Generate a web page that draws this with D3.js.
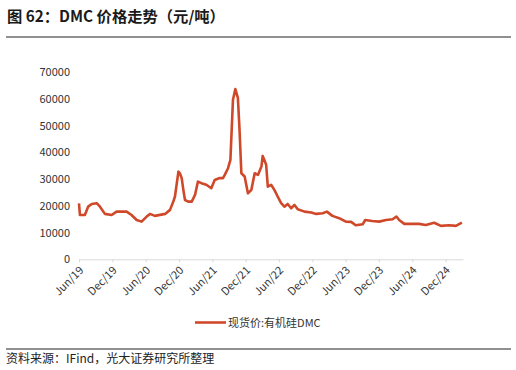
<!DOCTYPE html>
<html>
<head>
<meta charset="utf-8">
<title>DMC 价格走势</title>
<script src="https://d3js.org/d3.v7.min.js" charset="utf-8"></script>
<style>
  body { margin: 0; background: #fff; }
  text { font-family: "Noto Sans CJK SC", "Noto Sans", sans-serif; }
</style>
</head>
<body>
<script>
// 日付と価格（元/吨）
var dates = [
  "2019-06-01","2019-06-06","2019-07-03","2019-07-21","2019-08-10","2019-09-06","2019-09-24","2019-10-21",
  "2019-11-27","2019-12-24","2020-02-17","2020-03-15","2020-04-12","2020-05-09","2020-06-06","2020-06-24",
  "2020-07-21","2020-09-15","2020-10-12","2020-10-30","2020-11-08","2020-11-27","2020-12-05","2020-12-15",
  "2020-12-24","2021-01-02","2021-01-20","2021-02-08","2021-02-26","2021-03-14","2021-04-02","2021-04-29",
  "2021-05-26","2021-06-14","2021-07-11","2021-07-29","2021-08-08","2021-08-26","2021-09-08","2021-09-22",
  "2021-10-05","2021-10-19","2021-10-28","2021-11-07","2021-11-25","2021-12-13","2022-01-01","2022-01-19",
  "2022-02-06","2022-02-25","2022-03-04","2022-03-13","2022-03-23","2022-04-01","2022-04-19","2022-05-07",
  "2022-05-25","2022-06-13","2022-07-01","2022-07-19","2022-08-07","2022-08-25","2022-09-12","2022-10-19",
  "2022-11-25","2022-12-22","2023-01-27","2023-02-19","2023-03-21","2023-04-27","2023-06-03","2023-07-02",
  "2023-07-27","2023-09-03","2023-09-17","2023-10-25","2023-12-03","2024-01-09","2024-02-14","2024-03-06",
  "2024-03-21","2024-04-18","2024-05-25","2024-07-08","2024-08-14","2024-09-29","2024-11-05","2024-12-20",
  "2025-01-26","2025-02-28"
];
var prices = [
  20900,16600,16600,19700,20700,21000,19700,17000,
  16600,17850,17850,16600,14700,14100,16000,17000,
  16250,17000,18500,21600,23500,32800,32200,30400,
  26000,22200,21600,21600,24100,29100,28500,27900,
  26600,29700,30400,30400,31600,34100,37200,59700,
  63700,60400,48500,32200,31000,24700,26000,32200,
  31600,34700,38700,37200,35400,27200,27900,26000,
  23500,21000,19700,20700,19100,20350,18750,17850,
  17500,17000,17250,17850,16250,15400,14100,14000,
  12750,13100,14700,14350,14100,14700,15000,16000,
  14700,13250,13250,13250,12850,13700,12500,12750,
  12500,13700
];
var xTicks = ["2019-06-01","2019-12-01","2020-06-01","2020-12-01","2021-06-01","2021-12-01",
              "2022-06-01","2022-12-01","2023-06-01","2023-12-01","2024-06-01","2024-12-01"];
var yTicks = [0,10000,20000,30000,40000,50000,60000,70000];

var w = 516, h = 370;
var parse = d3.timeParse("%Y-%m-%d");
var data = dates.map(function(d, i){ return {date: parse(d), value: prices[i]}; });

var svg = d3.select("body").append("svg")
            .attr("width", w)
            .attr("height", h);

svg.append("rect").attr("width", w).attr("height", h).attr("fill", "#fff");

// タイトル
svg.append("text")
   .attr("x", 7).attr("y", 22)
   .attr("font-size", 15.3).attr("font-weight", "bold")
   .attr("fill", "#1a1a1a")
   .text("图 62：DMC 价格走势（元/吨）");
svg.append("line")
   .attr("x1", 6).attr("x2", 511).attr("y1", 37).attr("y2", 37)
   .attr("stroke", "#222").attr("stroke-width", 1);

var x = d3.scaleTime()
          .domain([parse("2019-06-01"), parse("2025-03-06")])
          .range([79, 463]);
var y = d3.scaleLinear()
          .domain([0, 70000])
          .range([259.3, 72.3]);

// y軸（線なし）
var yAxis = svg.append("g")
   .attr("transform", "translate(79,0)")
   .call(d3.axisLeft(y).tickValues(yTicks).tickSize(0).tickPadding(9).tickFormat(d3.format("d")));
yAxis.select(".domain").remove();
yAxis.selectAll("text").attr("font-size", 11).attr("fill", "#333")
     .style("font-family", "'Noto Sans CJK SC', sans-serif");

// x軸
var xAxis = svg.append("g")
   .attr("transform", "translate(0,259.3)")
   .call(d3.axisBottom(x).tickValues(xTicks.map(parse)).tickSize(3).tickSizeOuter(0)
          .tickFormat(d3.timeFormat("%b/%y")));
xAxis.select(".domain").attr("stroke", "#d9d9d9");
xAxis.selectAll(".tick line").attr("stroke", "#d9d9d9");
xAxis.selectAll("text")
     .attr("font-size", 11).attr("fill", "#333")
     .style("font-family", "'Noto Sans CJK SC', sans-serif")
     .attr("text-anchor", "end")
     .attr("x", 0).attr("y", 0)
     .attr("dx", 0).attr("dy", "0.35em")
     .attr("transform", "translate(2,9) rotate(-45)");

// 折れ線
var line = d3.line()
             .x(function(d){ return x(d.date); })
             .y(function(d){ return y(d.value); });
svg.append("path")
   .datum(data)
   .attr("d", line)
   .attr("fill", "none")
   .attr("stroke", "#d0482a")
   .attr("stroke-width", 2.6)
   .attr("stroke-linejoin", "round");

// 凡例
svg.append("line")
   .attr("x1", 195).attr("x2", 226).attr("y1", 322.5).attr("y2", 322.5)
   .attr("stroke", "#d0482a").attr("stroke-width", 2.6);
svg.append("text")
   .attr("x", 228).attr("y", 326.5)
   .attr("font-size", 11).attr("fill", "#333")
   .text("现货价:有机硅DMC");

// 出典
svg.append("line")
   .attr("x1", 6).attr("x2", 511).attr("y1", 349).attr("y2", 349)
   .attr("stroke", "#222").attr("stroke-width", 1);
svg.append("text")
   .attr("x", 6).attr("y", 363)
   .attr("font-size", 12).attr("fill", "#222")
   .text("资料来源：IFind，光大证券研究所整理");
</script>
</body>
</html>
